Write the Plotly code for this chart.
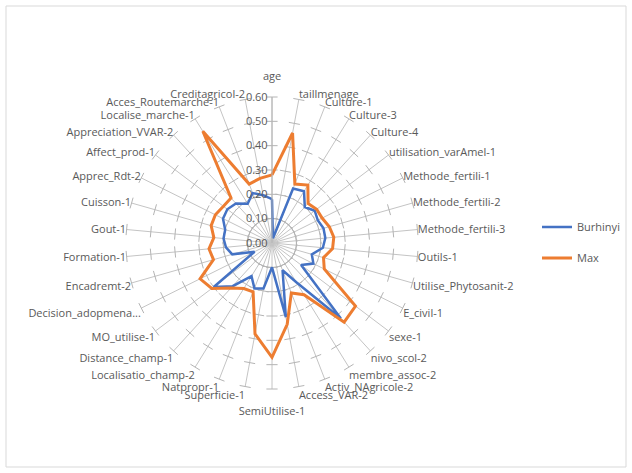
import plotly.graph_objects as go

# Radar categories, clockwise from the top
categories = [
    "age", "taillmenage", "Culture-1", "Culture-3", "Culture-4",
    "utilisation_varAmel-1", "Methode_fertili-1", "Methode_fertili-2",
    "Methode_fertili-3", "Outils-1", "Utilise_Phytosanit-2", "E_civil-1",
    "sexe-1", "nivo_scol-2", "membre_assoc-2", "Activ_NAgricole-2",
    "Access_VAR-2", "SemiUtilise-1", "Superficie-1", "Natpropr-1",
    "Localisatio_champ-2", "Distance_champ-1", "MO_utilise-1",
    "Decision_adopmena...", "Encadremt-2", "Formation-1", "Gout-1",
    "Cuisson-1", "Apprec_Rdt-2", "Affect_prod-1", "Appreciation_VVAR-2",
    "Localise_marche-1", "Acces_Routemarche-1", "Creditagricol-2",
]

burhinyi = [
    0.18, 0.02, 0.24, 0.25, 0.20, 0.22, 0.21, 0.22, 0.22, 0.21, 0.17, 0.19,
    0.15, 0.42, 0.19, 0.12, 0.31, 0.10, 0.19, 0.20, 0.16, 0.24, 0.30, 0.08,
    0.17, 0.19, 0.20, 0.20, 0.225, 0.23, 0.22, 0.19, 0.22, 0.20,
]

max_vals = [
    0.28, 0.46, 0.26, 0.28, 0.22, 0.23, 0.23, 0.245, 0.255, 0.25, 0.22, 0.24,
    0.43, 0.44, 0.25, 0.22, 0.34, 0.47, 0.38, 0.215, 0.22, 0.25, 0.31, 0.33,
    0.25, 0.26, 0.24, 0.26, 0.26, 0.25, 0.25, 0.54, 0.26, 0.27,
]

radial_ticks = [0.1, 0.2, 0.3, 0.4, 0.5, 0.6]

TEXT = "#595959"
FONT = "'Open Sans', 'Noto Sans', sans-serif"
n = len(categories)

# labels on the vertical axis sit a little further out, clear of the scale
tick_labels = list(categories)
tick_labels[0] = categories[0] + "<br> "
tick_labels[17] = " <br>" + categories[17]

fig = go.Figure()

# small cross ticks on every spoke
tick_r, tick_t, tick_a = [], [], []
for i, c in enumerate(categories):
    for v in radial_ticks:
        tick_r.append(v)
        tick_t.append(c)
        tick_a.append(i * 360.0 / n)
fig.add_trace(go.Scatterpolar(
    r=tick_r, theta=tick_t, mode="markers",
    marker=dict(symbol="line-ew", size=8, angle=tick_a,
                line=dict(width=1, color="#b4b4b4")),
    hoverinfo="skip", showlegend=False,
))


def closed(vals):
    return list(vals) + [vals[0]]


fig.add_trace(go.Scatterpolar(
    r=closed(burhinyi), theta=closed(categories), mode="lines",
    name="Burhinyi", legendgroup="a",
    line=dict(color="#4472C4", width=2.5),
))
fig.add_trace(go.Scatterpolar(
    r=closed(max_vals), theta=closed(categories), mode="lines",
    name="Max", legendgroup="b",
    line=dict(color="#ED7D31", width=3),
))

cx, cy, R = 272, 243, 146
W, H = 632, 473
fig.update_layout(
    width=W, height=H,
    margin=dict(l=0, r=0, t=0, b=0),
    paper_bgcolor="white",
    font=dict(family=FONT, size=11, color=TEXT),
    polar=dict(
        domain=dict(x=[(cx - R) / W, (cx + R) / W],
                    y=[(H - cy - R) / H, (H - cy + R) / H]),
        bgcolor="rgba(0,0,0,0)",
        angularaxis=dict(
            type="category", categoryarray=categories,
            tickmode="array", tickvals=categories, ticktext=tick_labels,
            direction="clockwise", rotation=90,
            showline=False, showgrid=True, gridcolor="#c4c4c4", gridwidth=1,
            ticks="", tickfont=dict(family=FONT, size=11, color=TEXT),
        ),
        radialaxis=dict(
            range=[0, 0.6], tickvals=[0] + radial_ticks, tickformat=".2f",
            angle=90, side="counterclockwise", tickangle=90,
            showgrid=False, showline=True, linecolor="#b4b4b4", ticks="",
            tickfont=dict(family=FONT, size=11, color=TEXT),
        ),
    ),
    legend=dict(
        x=537 / W, y=(H - 242.5) / H, xanchor="left", yanchor="middle",
        bgcolor="rgba(0,0,0,0)", tracegroupgap=12,
        font=dict(family=FONT, size=11, color=TEXT),
    ),
    shapes=[dict(type="rect", xref="paper", yref="paper",
                 x0=6 / W, x1=626 / W, y0=6 / H, y1=467 / H,
                 line=dict(color="#d9d9d9", width=1))],
)

fig.write_html("out.html")
